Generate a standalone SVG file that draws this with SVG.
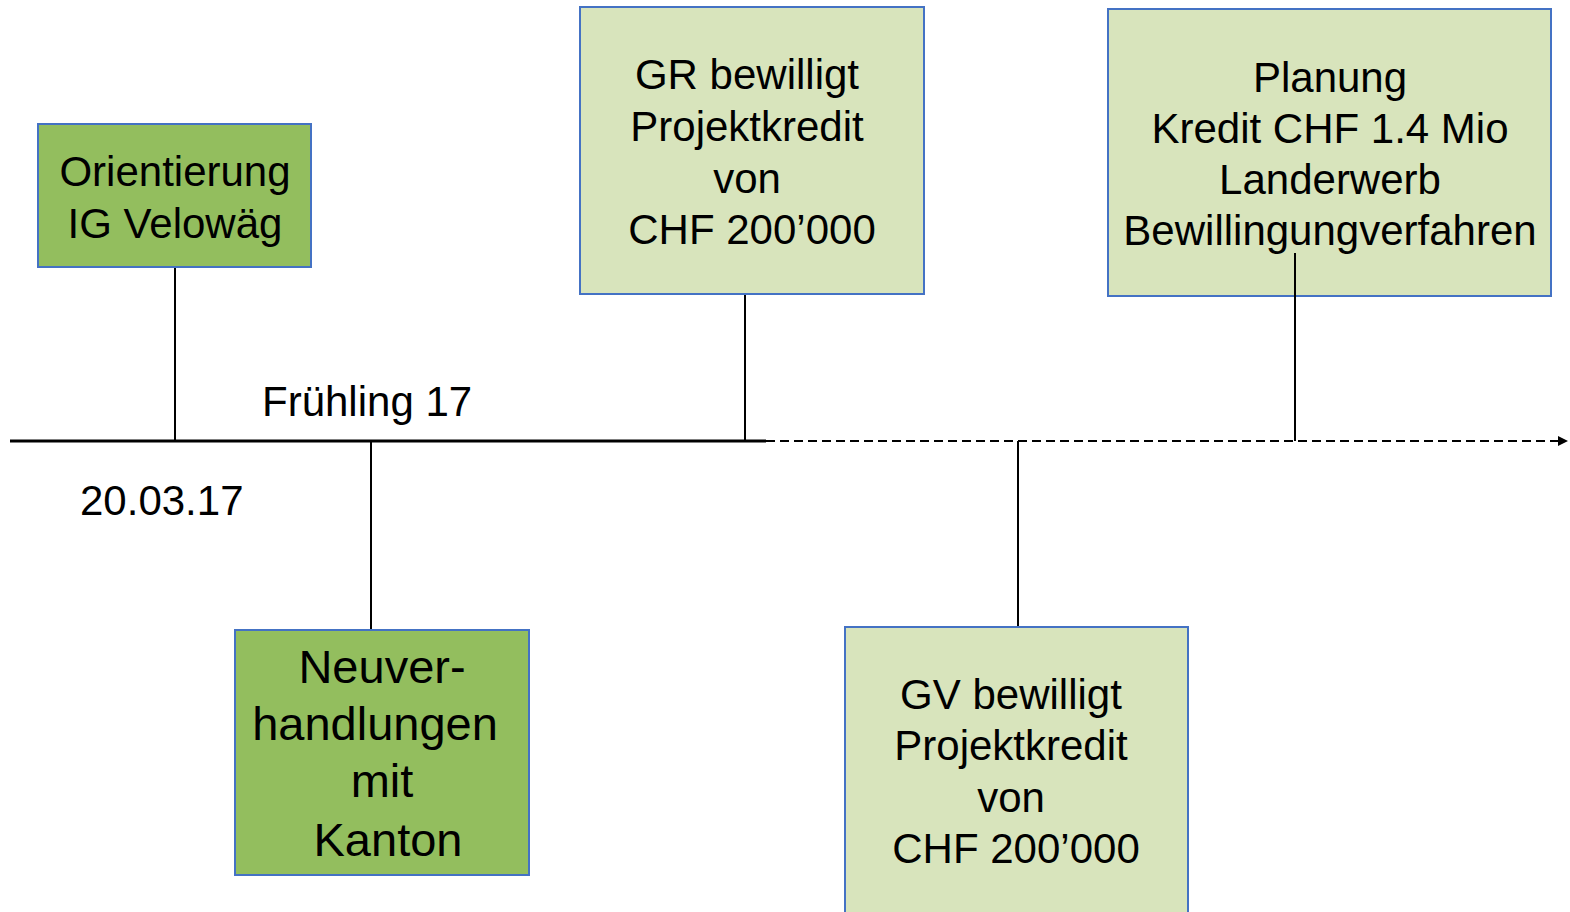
<svg xmlns="http://www.w3.org/2000/svg" width="1570" height="912" viewBox="0 0 1570 912">
<defs>
<style>
.dark{fill:#93BE5E;stroke:#4472C4;stroke-width:2}
.light{fill:#D8E4BC;stroke:#4472C4;stroke-width:2}
text{font-family:"Liberation Sans",Arial,sans-serif;fill:#000;text-anchor:middle}
.t{font-size:42px}
.big{font-size:47px}
.lbl{font-size:42px;text-anchor:start}
.c{stroke:#000;stroke-width:2;fill:none}
</style>
<marker id="arr" viewBox="0 0 10 10" refX="8" refY="5" markerWidth="5" markerHeight="5" orient="auto" markerUnits="strokeWidth">
<path d="M0,0 L10,5 L0,10 z" fill="#000"/>
</marker>
</defs>
<rect width="1570" height="912" fill="#fff"/>
<g id="connectors">
<line x1="10" y1="441" x2="766" y2="441" stroke="#000" stroke-width="3"/>
<line x1="766" y1="441" x2="1566" y2="441" stroke="#000" stroke-width="2" stroke-dasharray="9,5" marker-end="url(#arr)"/>
<line class="c" x1="175" y1="267" x2="175" y2="441"/>
<line class="c" x1="371" y1="441" x2="371" y2="630"/>
<line class="c" x1="745" y1="294" x2="745" y2="441"/>
<line class="c" x1="1018" y1="441" x2="1018" y2="630"/>
</g>
<g id="orientierung">
<rect class="dark" x="38" y="124" width="273" height="143"/>
<text class="t" x="175" y="186">Orientierung</text>
<text class="t" x="175" y="238">IG Velowäg</text>
</g>
<g id="gr">
<rect class="light" x="580" y="7" width="344" height="287"/>
<text class="t" x="747" y="89">GR bewilligt</text>
<text class="t" x="747" y="141">Projektkredit</text>
<text class="t" x="747" y="193">von</text>
<text class="t" x="752" y="244">CHF 200’000</text>
</g>
<g id="planung">
<rect class="light" x="1108" y="9" width="443" height="287"/>
<text class="t" x="1330" y="92">Planung</text>
<text class="t" x="1330" y="143">Kredit CHF 1.4 Mio</text>
<text class="t" x="1330" y="194">Landerwerb</text>
<text class="t" x="1330" y="245">Bewillingungverfahren</text>
<line class="c" x1="1295" y1="253" x2="1295" y2="441"/>
</g>
<g id="neuver">
<rect class="dark" x="235" y="630" width="294" height="245"/>
<text class="big" x="382" y="683">Neuver-</text>
<text class="big" x="375" y="740">handlungen</text>
<text class="big" x="382" y="797">mit</text>
<text class="big" x="388" y="856">Kanton</text>
</g>
<g id="gv">
<rect class="light" x="845" y="627" width="343" height="300"/>
<text class="t" x="1011" y="709">GV bewilligt</text>
<text class="t" x="1011" y="760">Projektkredit</text>
<text class="t" x="1011" y="812">von</text>
<text class="t" x="1016" y="863">CHF 200’000</text>
</g>
<g id="labels">
<text class="lbl" x="262" y="416">Frühling 17</text>
<text class="lbl" x="80" y="515">20.03.17</text>
</g>
</svg>
